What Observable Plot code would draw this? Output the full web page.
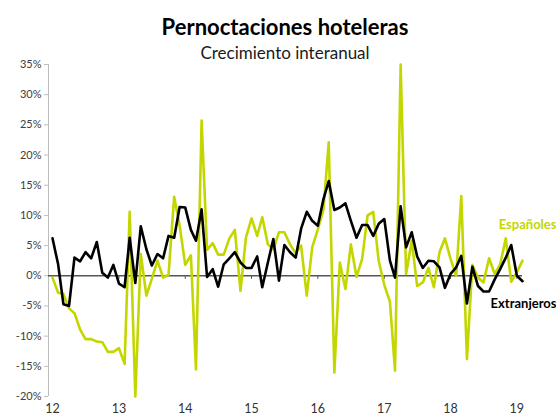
<!DOCTYPE html>
<html><head><meta charset="utf-8">
<script src="https://cdn.jsdelivr.net/npm/d3@7"></script>
<script src="https://cdn.jsdelivr.net/npm/@observablehq/plot@0.6"></script>
<style>
body{margin:0;background:#fff;font-family:Lato,"Open Sans",sans-serif;}
#wrap{position:relative;width:556px;height:417px;overflow:hidden;}
#title{position:absolute;left:48px;width:474px;top:14px;text-align:center;font-weight:700;font-size:22px;line-height:26px;color:#000;}
#subtitle{position:absolute;left:48px;width:474px;top:43px;text-align:center;font-size:17px;line-height:20px;color:#1a1a1a;}
#chart{position:absolute;left:0;top:48px;}
</style></head><body>
<div id="wrap"><div id="chart"></div><div id="title">Pernoctaciones hoteleras</div><div id="subtitle">Crecimiento interanual</div></div>
<script>
const startYear = 2012, startMonth = 0;
const seriesNames = ["Españoles", "Extranjeros"];
const yearTicks = [2012, 2013, 2014, 2015, 2016, 2017, 2018, 2019];
const yearLabels = ["12", "13", "14", "15", "16", "17", "18", "19"];
const yTicks = [-20, -15, -10, -5, 0, 5, 10, 15, 20, 25, 30, 35];
const espanoles = [
  -0.3, -2.8, -3.0, -5.4, -6.2, -8.9, -10.5, -10.5, -10.9, -11.0, -12.6, -12.6,
  -12.0, -14.6, 10.6, -20.0, 3.6, -3.3, -0.5, 2.5, -0.3, 0.2, 13.1, 8.3,
  1.8, 3.4, -15.5, 25.7, 4.3, 5.4, 3.5, 3.5, 6.2, 7.6, -2.5, 6.3,
  9.5, 6.6, 9.7, 5.2, 4.4, 7.2, 7.2, 5.2, 3.7, 5.0, -3.3, 4.7,
  7.7, 11.0, 22.1, -16.0, 2.2, -2.2, 5.2, -0.2, 2.8, 10.0, 10.6, 2.5,
  -1.5, -4.3, -15.7, 35.0, 0.3, 5.8, -1.7, -1.1, 1.3, -1.9, 3.9, 6.2,
  2.8, 0.0, 13.2, -13.8, 1.8, -0.3, -1.1, 2.9, 0.3, 1.9, 6.2, -1.0,
  0.6, 2.5
];
const extranjeros = [
  6.2, 1.9, -4.7, -5.0, 3.0, 2.4, 3.9, 2.9, 5.6, 0.5, -0.3, 1.8,
  -1.3, -1.9, 6.3, -1.2, 8.2, 4.4, 1.7, 3.6, 2.9, 6.6, 6.3, 11.4,
  11.3, 7.6, 5.8, 11.0, -0.2, 1.1, -1.8, 1.9, 2.9, 3.9, 2.2, 1.3,
  1.3, 3.2, -1.9, 2.2, 6.1, -0.8, 5.1, 3.9, 3.0, 7.8, 10.6, 9.1,
  8.3, 12.7, 15.7, 10.9, 11.3, 12.0, 9.1, 6.3, 8.4, 8.4, 6.6, 8.6,
  9.4, 2.5, -0.3, 11.5, 4.7, 7.2, 3.2, 1.3, 2.5, 2.4, 1.4, -2.0,
  0.3, 1.4, 3.3, -4.6, 1.5, -1.7, -2.6, -2.6, -0.6, 1.1, 3.0, 5.1,
  0.0, -0.9
];
const colors = ["#c4d600", "#000000"];

const dateOf = i => new Date(Date.UTC(startYear, startMonth + i, 1));
const esp = espanoles.map((v, i) => ({date: dateOf(i), value: v}));
const ext = extranjeros.map((v, i) => ({date: dateOf(i), value: v}));
const yearDates = yearTicks.map(y => new Date(Date.UTC(y, 0, 1)));
const labelOf = new Map(yearDates.map((d, i) => [+d, yearLabels[i]]));
const xDomain = [esp[0].date, esp[esp.length - 1].date];

const chart = Plot.plot({
  width: 556,
  height: 369,
  marginTop: 16,
  marginBottom: 21,
  marginLeft: 48,
  marginRight: 34,
  insetLeft: 4,
  style: {fontFamily: "Lato, 'Open Sans', sans-serif", background: "transparent"},
  x: {type: "utc", domain: xDomain},
  y: {domain: [-20, 35]},
  marks: [
    Plot.ruleX([xDomain[0]], {dx: -4, stroke: "#bdbdbd", strokeWidth: 1}),
    Plot.axisY({ticks: yTicks, tickFormat: d => d + "%", tickSize: 4, tickPadding: 3, stroke: "#bdbdbd", fill: "#404040", fontSize: 11, label: null}),
    Plot.axisX({ticks: yearDates, tickFormat: d => labelOf.get(+d), tickSize: 0, tickPadding: 8, fill: "#333", fontSize: 12.5, label: null}),
    Plot.ruleY([0], {stroke: "#555", strokeWidth: 1.5}),
    Plot.ruleX(yearDates, {y1: 0, y2: -0.6, stroke: "#555", strokeWidth: 1}),
    Plot.lineY(esp, {x: "date", y: "value", stroke: colors[0], strokeWidth: 2.6}),
    Plot.lineY(ext, {x: "date", y: "value", stroke: colors[1], strokeWidth: 2.6}),
    Plot.text([esp[esp.length - 1]], {x: "date", y: "value", text: () => seriesNames[0], dx: 34, dy: -36, textAnchor: "end", fill: colors[0], fontWeight: "bold", fontSize: 13}),
    Plot.text([ext[ext.length - 1]], {x: "date", y: "value", text: () => seriesNames[1], dx: 34, dy: 23, textAnchor: "end", fill: colors[1], fontWeight: "bold", fontSize: 13})
  ]
});
document.getElementById("chart").appendChild(chart);
</script>
</body></html>
